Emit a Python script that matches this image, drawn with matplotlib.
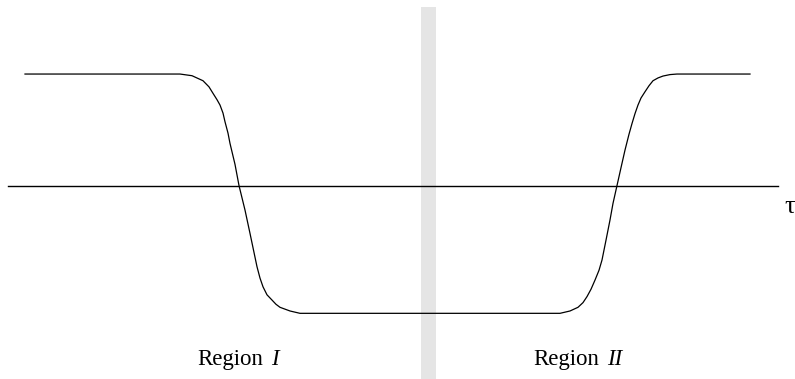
import matplotlib
matplotlib.use("Agg")
import matplotlib.pyplot as plt

# Signal (x in time units, y in normalized amplitude)
t = [25, 180, 192, 203, 209, 213, 217, 220, 223, 225, 228, 230, 235, 239,
     245, 250, 254, 257, 260, 263, 267, 272, 276, 280, 290, 300,
     560, 570, 578, 583, 587, 591, 595, 599, 602, 606, 610, 613, 617,
     621, 625, 629, 632, 635, 638, 641, 645, 649, 653, 658, 663, 670, 677, 750]
s = [1.0, 1.0, 0.985, 0.94, 0.885, 0.827, 0.77, 0.722, 0.65, 0.572, 0.47, 0.378, 0.19, 0.0,
     -0.22, -0.429, -0.6, -0.728, -0.83, -0.908, -0.98, -1.027, -1.065, -1.092, -1.125, -1.146,
     -1.146, -1.125, -1.092, -1.05, -0.996, -0.93, -0.848, -0.76, -0.668, -0.49, -0.309, -0.16, 0.0,
     0.16, 0.318, 0.46, 0.556, 0.645, 0.722, 0.785, 0.841, 0.895, 0.94, 0.965, 0.982, 0.995, 1.0, 1.0]

axis_range = [8, 778]
band_range = [421, 436]
region_labels = [("Region", "I"), ("Region", "II")]
region_label_x = [197, 533]
axis_label = "\u03c4"

fig = plt.figure(figsize=(7.95, 3.79), dpi=100)
ax = fig.add_axes([0, 0, 1, 1])
ax.set_xlim(0, 795)
ax.set_ylim(-1.735, 1.664)
ax.axis("off")

ax.fill_between(band_range, [-1.735, -1.735], [1.60, 1.60], color="#e5e5e5", lw=0, zorder=0)
ax.plot(axis_range, [0, 0], color="black", lw=1.0, zorder=2)
ax.plot(t, s, color="black", lw=0.9, zorder=3)

for (word, num), x0 in zip(region_labels, region_label_x):
    tx = ax.text(x0, -1.61, word, family="Liberation Serif", fontsize=16.5,
                 ha="left", va="baseline", color="black")
    fig.canvas.draw()
    bb = tx.get_window_extent()
    inv = ax.transData.inverted()
    xend = inv.transform((bb.x1, bb.y0))[0]
    ax.text(xend + 8, -1.61, num, family="Liberation Serif", style="italic",
            fontsize=16.5, ha="left", va="baseline", color="black")

ax.text(784, -0.19, axis_label, family="Liberation Serif",
        fontsize=19, ha="left", va="center", color="black", clip_on=False)

fig.savefig("out.png", dpi=100)
